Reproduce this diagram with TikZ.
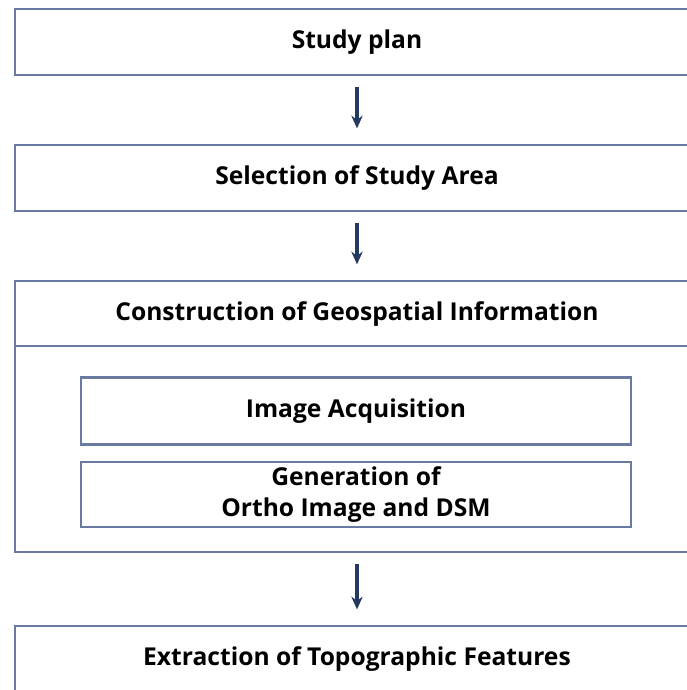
\documentclass[tikz,border=0pt]{standalone}
\usepackage{fontspec}
\setmainfont{Open Sans}
\usetikzlibrary{arrows.meta}
\definecolor{boxline}{RGB}{104,122,160}
\definecolor{arrowblue}{RGB}{36,56,96}
\begin{document}
\begin{tikzpicture}[x=0.025cm,y=-0.025cm,
    stepbox/.style={draw=boxline,line width=2pt,fill=white,inner sep=0pt,
      minimum width=17.1cm,minimum height=1.65cm,align=center,
      font=\fontsize{17.5}{22.5}\selectfont\bfseries},
    innerbox/.style={stepbox,minimum width=13.75cm,minimum height=1.67cm},
    flow/.style={-{Stealth[length=9pt,width=8pt]},arrowblue,line width=2.2pt,
      shorten <=0.26cm,shorten >=0.38cm}]
		\useasboundingbox (0,0) rectangle (686,690);
		% main steps
		\node[stepbox] (plan) at (357,42) {Study plan};
		\node[stepbox] (area) at (357,178) {Selection of Study Area};
		% geospatial block with title bar
		\node[stepbox,minimum height=6.775cm] (geo) at (357,416.5) {};
		\node[font=\fontsize{17.5}{22.5}\selectfont\bfseries] (geotitle) at (357,314) {Construction of Geospatial Information};
		\draw[boxline,line width=2pt] (geo.west |- 0,346) -- (geo.east |- 0,346);
		\node[innerbox] (acq) at (356,411) {Image Acquisition};
		\node[innerbox,minimum height=1.625cm] (ortho) at (356,494.5) {Generation of\\Ortho Image and DSM};
		\node[stepbox] (extract) at (357,659) {Extraction of Topographic Features};
		% arrows
		\draw[flow] (plan) -- (area);
		\draw[flow] (area) -- (geo);
		\draw[flow] (geo) -- (extract);
	\end{tikzpicture}
\end{document}
